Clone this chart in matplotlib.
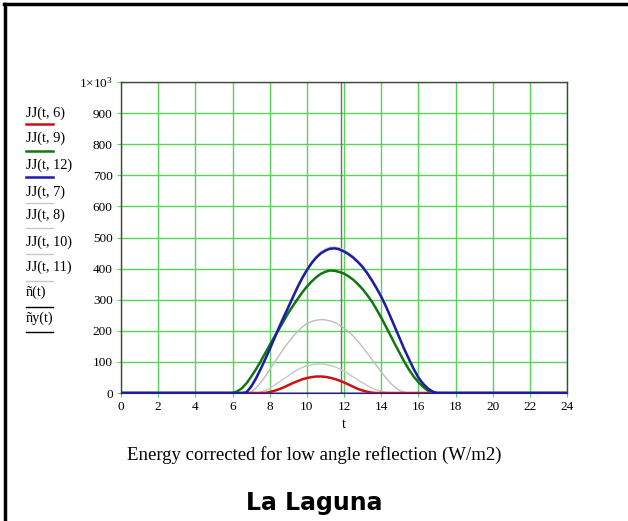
import numpy as np
import matplotlib
matplotlib.use("Agg")
import matplotlib.pyplot as plt
from matplotlib.lines import Line2D

# ---- data (hours 0..24, step 0.25) ----
t = np.arange(0, 24.25, 0.25)

def pad(start, vals):
    arr = np.zeros(len(t))
    i0 = int(round(start * 4))
    arr[i0:i0 + len(vals)] = vals
    return arr

jj6 = pad(7.75, [0, 3, 7, 12, 18, 25, 32, 38, 44, 48, 51, 53, 53, 52, 49, 45, 40,
                 34, 27, 20, 13, 8, 4, 1, 0])
jj7 = pad(7.25, [0, 3, 8, 15, 25, 35, 45, 55, 66, 75, 82, 88, 91, 93, 93, 92, 89,
                 85, 78, 70, 61, 52, 42, 33, 24, 16, 10, 5, 2, 0])
jj8 = pad(6.75, [0, 3, 15, 32, 52, 75, 98, 120, 142, 162, 181, 198, 212, 223, 230,
                 234, 236, 235, 232, 227, 219, 209, 197, 183, 166, 148, 128, 108,
                 88, 68, 49, 32, 18, 8, 2, 0])
jj9 = pad(6.0, [0, 5, 15, 31, 52, 75, 100, 127, 154, 180, 205, 231, 257, 280, 302,
                323, 342, 358, 372, 383, 390, 394, 393, 389, 384, 375, 364, 350,
                334, 315, 294, 269, 243, 214, 185, 156, 128, 100, 75, 53, 35, 20,
                8, 2, 0])
jj10 = pad(6.5, [0, 5, 24, 50, 80, 112, 146, 181, 216, 250, 282, 314, 346, 375, 400,
                 422, 440, 454, 463, 469, 470, 467, 460, 451, 440, 426, 410, 390,
                 367, 342, 315, 284, 250, 215, 180, 145, 112, 81, 54, 33, 17, 6, 1, 0])
jj11 = pad(6.5, [0, 4, 22, 48, 78, 110, 144, 179, 214, 248, 280, 312, 344, 373, 398,
                 420, 438, 452, 461, 467, 468, 466, 459, 450, 439, 425, 409, 389,
                 366, 341, 314, 283, 249, 214, 179, 144, 111, 80, 53, 32, 16, 6, 1, 0])
jj12 = pad(6.5, [0, 2, 20, 45, 75, 107, 140, 175, 210, 243, 275, 308, 340, 369, 395,
                 417, 435, 449, 458, 464, 465, 462, 455, 446, 435, 421, 405, 385,
                 362, 337, 310, 279, 245, 210, 175, 140, 108, 77, 50, 30, 15, 5, 0])
n_t = np.zeros(len(t))
ny_t = np.zeros(len(t))

xticks = list(range(0, 25, 2))
yticks = list(range(0, 1001, 100))
ytick_labels = [str(v) for v in yticks[:-1]] + ["1×10$^{3}$"]
legend_labels = ["JJ(t, 6)", "JJ(t, 9)", "JJ(t, 12)", "JJ(t, 7)", "JJ(t, 8)",
                 "JJ(t, 10)", "JJ(t, 11)", "ñ(t)", "ñy(t)"]
title = "Energy corrected for low angle reflection (W/m2)"
caption = "La Laguna"

# ---- figure ----
W, H = 628, 521
fig = plt.figure(figsize=(W / 100, H / 100), dpi=100)
fig.patch.set_facecolor("white")
serif = "Liberation Serif"
plt.rcParams["mathtext.fontset"] = "custom"
plt.rcParams["mathtext.rm"] = serif
plt.rcParams["mathtext.it"] = serif

def fx(px):
    return px / W

def fy(py):
    return 1 - py / H

ax = fig.add_axes([fx(121), fy(393), fx(567) - fx(121), fy(82) - fy(393)])

red = "#cc1111"
green = "#117711"
blue = "#1c1ca8"
lgray = "#c8c8c8"
mgray = "#bdbdbd"

ax.plot(t, jj10, color="#d2d2e0", lw=1.0, zorder=3)
ax.plot(t, jj11, color="#c6c6d6", lw=1.0, zorder=3)
ax.plot(t, jj7, color=lgray, lw=1.0, zorder=3)
ax.plot(t, jj8, color=mgray, lw=1.0, zorder=3)
ax.plot(t, n_t, color="black", lw=1.0, zorder=3)
ax.plot(t, ny_t, color="black", lw=1.0, zorder=3)
ax.plot(t, jj6, color=red, lw=1.8, zorder=4)
ax.plot(t, jj9, color=green, lw=1.8, zorder=4)
ax.plot(t, jj12, color=blue, lw=1.8, zorder=5)

ax.axvline(11.85, color="#6e6e6e", lw=1.0, zorder=2)

ax.set_xlim(0, 24)
ax.set_ylim(0, 1000)
ax.set_xticks(xticks)
ax.set_yticks(yticks)
ax.set_yticklabels(ytick_labels)
ax.grid(True, color="#55d455", lw=1.0)
ax.set_axisbelow(True)
for s in ["left", "top", "right"]:
    ax.spines[s].set_color("#444444")
    ax.spines[s].set_linewidth(1.0)
ax.spines["bottom"].set_color(blue)
ax.tick_params(axis="both", length=3, color="#55d455", labelsize=9.5, pad=3)
for lab in ax.get_xticklabels() + ax.get_yticklabels():
    lab.set_fontfamily(serif)
ax.set_xlabel("t", fontfamily=serif, fontsize=10.5, labelpad=3)

# legend (Mathcad style)
leg_colors = [red, green, blue, lgray, lgray, lgray, lgray, "black", "black"]
leg_lw = [1.8, 1.8, 1.8, 1.0, 1.0, 1.0, 1.0, 1.0, 1.0]
text_y = [113, 138, 165, 192, 215, 242, 267, 292, 318]
line_y = [124, 151, 177, 203, 228, 254, 281, 307, 332]
for lab, c, lw, ty, ly in zip(legend_labels, leg_colors, leg_lw, text_y, line_y):
    fig.text(fx(26), fy(ty), lab, fontfamily=serif, fontsize=10.3, va="center", ha="left")
    fig.add_artist(Line2D([fx(26), fx(53)], [fy(ly), fy(ly)], color=c, lw=lw,
                          transform=fig.transFigure))

fig.text(fx(314), fy(455), title, fontfamily=serif, fontsize=13.5, ha="center", va="center")
fig.text(fx(314), fy(503), caption, fontfamily="DejaVu Sans", fontweight="bold",
         fontsize=17, ha="center", va="center")

# page frame (top and left)
fig.add_artist(Line2D([fx(4), fx(628)], [fy(4), fy(4)], color="black", lw=2.5,
                      transform=fig.transFigure))
fig.add_artist(Line2D([fx(5), fx(5)], [fy(4), fy(521)], color="black", lw=2.5,
                      transform=fig.transFigure))

fig.savefig("out.png", dpi=100)
